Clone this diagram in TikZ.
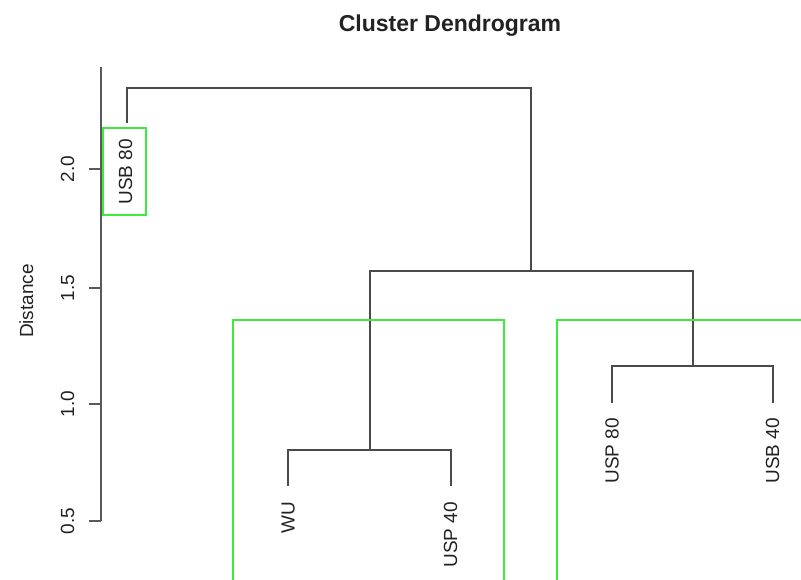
\documentclass[tikz,border=0pt]{standalone}
\usepackage{fontspec}
\setmainfont{Liberation Sans}
\definecolor{dline}{HTML}{4A4A4A}
\definecolor{axline}{HTML}{5A5A5A}
\definecolor{boxgreen}{HTML}{3CEB3C}
\definecolor{txt}{HTML}{222222}
\begin{document}
\begin{tikzpicture}[x=1pt,y=-1pt,
  dend/.style={draw=dline,line width=1.4pt},
  axis/.style={draw=axline,line width=1.4pt},
  clbox/.style={draw=boxgreen,line width=1.3pt},
  leaf/.style={rotate=90,anchor=base east,inner sep=0pt,text=txt,font=\fontsize{19}{22}\selectfont},
  ticklab/.style={rotate=90,anchor=base,inner sep=0pt,text=txt,font=\fontsize{19}{22}\selectfont}]
\useasboundingbox (0,0) rectangle (801,579);
% title
\node[anchor=base,inner sep=0pt,text=txt,font=\fontsize{23}{26}\selectfont\bfseries] (title) at (450,31) {Cluster Dendrogram};
% y axis
\draw[axis] (101,67) -- (101,521);
\foreach \yy/\lab in {521/0.5,404/1.0,288/1.5,169/2.0}{
  \draw[axis] (89,\yy) -- (101,\yy);
  \node[ticklab] at (74,\yy) {\lab};
}
\node[ticklab] (ylab) at (33,301) {Distance};
% leaves
\node[leaf] (usb80) at (132,139) {USB 80};
\node[leaf] (wu) at (294.5,502) {WU};
\node[leaf] (usp40) at (457,502) {USP 40};
\node[leaf] (usp80) at (618.5,418) {USP 80};
\node[leaf] (usb40) at (779,418) {USB 40};
% merge points
\coordinate (m1) at (370,450);
\coordinate (m2) at (693,366);
\coordinate (m3) at (531,271);
\coordinate (m4) at (329,88);
% dendrogram lines
\draw[dend] (288,486) -- (288,450) -- (451,450) -- (451,486);
\draw[dend] (612,403) -- (612,366) -- (773,366) -- (773,403);
\draw[dend] (m1) -- (370,271) -- (693,271) -- (m2);
\draw[dend] (127,123) -- (127,88) -- (531,88) -- (m3);
% cluster boxes
\draw[clbox] (103,128) rectangle (146,215);
\draw[clbox] (233,584) -- (233,320) -- (504,320) -- (504,584);
\draw[clbox] (557,584) -- (557,320) -- (806,320);
\end{tikzpicture}
\end{document}
